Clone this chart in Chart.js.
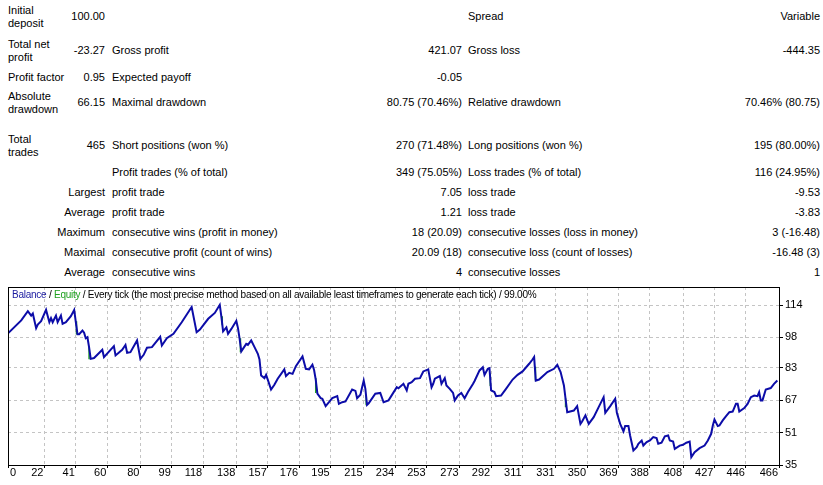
<!DOCTYPE html>
<html>
<head>
<meta charset="utf-8">
<script src="https://cdn.jsdelivr.net/npm/chart.js@4.4.1/dist/chart.umd.min.js"></script>
<style>
  html, body { margin: 0; padding: 0; background: #fff; }
  body {
    width: 823px; height: 485px; position: relative; overflow: hidden;
    font: 11px "Liberation Sans", Arial, sans-serif; color: #000;
  }
  .cell { position: absolute; white-space: pre; line-height: 13px; }
  .right { text-align: right; }
  #chartBox { position: absolute; left: 0; top: 283px; width: 823px; height: 202px; }
  #chartTitle {
    position: absolute; left: 12px; top: 288px; line-height: 14px; white-space: nowrap; z-index: 2;
    font-size: 10px; letter-spacing: -0.25px;
  }
  #chartTitle .bal { color: #1a1aa0; }
  #chartTitle .eq { color: #1fa01f; }
</style>
</head>
<body>
<div id="report"></div>
<div id="chartTitle"><span class="bal">Balance</span> / <span class="eq">Equity</span> / Every tick (the most precise method based on all available least timeframes to generate each tick) / 99.00%</div>
<div id="chartBox"><canvas id="balanceChart" width="823" height="202"></canvas></div>
<script>
'use strict';

// report rows: label, value, label, value, label, value
const reportRows = [
  ['Initial\ndeposit', '100.00', '', '', 'Spread', 'Variable'],
  ['Total net\nprofit', '-23.27', 'Gross profit', '421.07', 'Gross loss', '-444.35'],
  ['Profit factor', '0.95', 'Expected payoff', '-0.05', '', ''],
  ['Absolute\ndrawdown', '66.15', 'Maximal drawdown', '80.75 (70.46%)', 'Relative drawdown', '70.46% (80.75)'],
  ['Total\ntrades', '465', 'Short positions (won %)', '270 (71.48%)', 'Long positions (won %)', '195 (80.00%)'],
  ['', '', 'Profit trades (% of total)', '349 (75.05%)', 'Loss trades (% of total)', '116 (24.95%)'],
  ['Largest', '', 'profit trade', '7.05', 'loss trade', '-9.53'],
  ['Average', '', 'profit trade', '1.21', 'loss trade', '-3.83'],
  ['Maximum', '', 'consecutive wins (profit in money)', '18 (20.09)', 'consecutive losses (loss in money)', '3 (-16.48)'],
  ['Maximal', '', 'consecutive profit (count of wins)', '20.09 (18)', 'consecutive loss (count of losses)', '-16.48 (3)'],
  ['Average', '', 'consecutive wins', '4', 'consecutive losses', '1']
];
const rowCenters = [16.5, 50.5, 77, 102.5, 145.5, 172, 192, 212, 232, 252, 272];

const xTickLabels = [0, 22, 41, 60, 80, 99, 118, 138, 157, 176, 195, 215, 234, 253, 273, 292, 311, 331, 350, 369, 388, 408, 427, 446, 466];
const yTickLabels = [35, 51, 67, 83, 98, 114];

// balance after each trade (turning points)
const tradeIndex = [
  0, 8, 12, 14, 15, 17, 18, 20, 23, 25, 26, 27, 29, 30, 32, 33, 35, 38, 40, 41,
  42, 43, 45, 46, 47, 48, 49, 50, 52, 57, 58, 64, 65, 69, 71, 72, 74, 78, 80, 82,
  84, 87, 92, 93, 96, 100, 105, 111, 114, 116, 121, 125, 128, 129, 130, 132, 133, 135, 138, 139,
  140, 141, 144, 145, 147, 149, 151, 152, 153, 155, 156, 157, 159, 161, 163, 167, 168, 170, 172, 174,
  178, 180, 182, 184, 185, 186, 187, 189, 190, 192, 194, 196, 199, 200, 202, 204, 208, 210, 211, 213,
  214, 215, 216, 217, 218, 222, 225, 227, 230, 235, 236, 239, 241, 242, 244, 246, 249, 251, 254, 256,
  257, 258, 261, 262, 264, 265, 267, 269, 270, 272, 274, 276, 278, 281, 282, 285, 287, 288, 290, 291,
  292, 294, 295, 298, 301, 305, 308, 311, 315, 317, 318, 319, 321, 326, 330, 332, 334, 336, 337, 338,
  342, 344, 346, 347, 349, 351, 354, 357, 360, 361, 364, 367, 368, 370, 372, 373, 375, 376, 378, 380,
  381, 383, 384, 386, 388, 390, 392, 393, 395, 397, 399, 400, 402, 403, 406, 408, 410, 412, 413, 415,
  418, 421, 423, 425, 426, 427, 429, 430, 432, 434, 436, 438, 440, 441, 442, 445, 447, 449, 451, 453,
  454, 455, 456, 458, 461, 463, 465
];
const balance = [
  100.0, 106.4, 111.0, 108.8, 109.8, 102.6, 104.4, 106.0, 111.6, 105.5, 107.5, 105.5, 108.8, 105.5, 108.8, 104.7, 105.5, 108.5, 111.6, 105.5,
  99.6, 99.6, 101.4, 100.3, 97.6, 98.1, 93.2, 87.4, 87.8, 91.9, 88.3, 93.7, 89.1, 91.9, 94.3, 90.4, 90.7, 96.5, 87.4, 89.4,
  92.9, 93.2, 98.3, 94.0, 97.6, 99.8, 105.5, 113.0, 100.6, 101.9, 107.2, 110.1, 114.1, 108.0, 101.0, 103.0, 99.8, 102.2, 106.2, 102.6,
  97.3, 91.1, 94.8, 94.3, 96.5, 93.2, 89.9, 87.1, 79.2, 77.9, 79.5, 77.2, 72.3, 74.6, 77.6, 82.2, 78.9, 80.5, 80.0, 83.8,
  88.6, 82.5, 82.2, 84.5, 81.9, 77.2, 70.2, 68.0, 67.7, 64.1, 66.0, 68.0, 69.0, 65.2, 66.0, 66.4, 72.3, 71.6, 68.0, 69.7,
  73.3, 76.7, 72.6, 64.7, 65.5, 70.2, 70.6, 66.0, 66.9, 73.4, 72.9, 75.1, 71.8, 75.1, 75.9, 77.6, 77.9, 81.2, 82.2, 73.4,
  75.1, 77.6, 78.9, 75.1, 77.9, 74.3, 72.6, 70.6, 66.9, 69.3, 70.6, 68.0, 71.0, 75.0, 76.5, 81.7, 83.3, 79.5, 82.5, 82.8,
  71.8, 71.0, 69.0, 69.3, 72.6, 77.2, 79.5, 81.2, 85.0, 87.1, 88.3, 76.7, 77.2, 80.9, 82.5, 84.5, 80.9, 74.3, 67.7, 61.1,
  61.9, 64.1, 55.3, 56.5, 59.5, 55.3, 58.6, 63.6, 68.5, 60.8, 64.1, 67.7, 60.8, 55.3, 51.6, 54.2, 54.2, 49.6, 42.2, 43.8,
  45.5, 47.1, 44.6, 46.3, 47.1, 48.8, 48.3, 45.5, 46.0, 49.2, 49.6, 47.1, 46.6, 43.0, 44.6, 45.0, 46.0, 46.6, 38.9, 41.3,
  43.3, 44.6, 47.1, 50.4, 54.5, 57.5, 54.2, 54.5, 57.0, 59.1, 61.1, 61.4, 65.2, 65.2, 61.4, 63.1, 65.2, 68.5, 69.3, 69.0,
  71.0, 66.9, 66.9, 72.3, 73.0, 75.1, 76.73
];

// equity dips that show under the balance line (null = gap)
const equityIndex = [41.4, 41.4, 41.4, 49, 49, 49, 129.5, 129.5, 129.5, 140.5, 140.5, 140.5, 186, 186, 186, 216.5, 216.5, 216.5, 291.5, 291.5, 291.5, 318.8, 318.8, 318.8, 337, 337];
const equity = [106.0, 99.4, null, 93.4, 87.2, null, 108.5, 104.0, null, 97.6, 90.7, null, 78.0, 70.5, null, 69.5, 64.5, null, 80.0, 74.0, null, 83.5, 76.7, null, 68.0, 63.5];

(function buildReport() {
  const report = document.getElementById('report');
  const cols = [
    { left: 8, align: 'left' },
    { right: 718, align: 'right' },
    { left: 112, align: 'left' },
    { right: 361, align: 'right' },
    { left: 468, align: 'left' },
    { right: 3, align: 'right' }
  ];
  reportRows.forEach((row, r) => {
    row.forEach((text, c) => {
      if (!text) return;
      const el = document.createElement('div');
      el.className = 'cell';
      el.textContent = text;
      const lines = text.split('\n').length;
      el.style.top = (rowCenters[r] - lines * 6.5) + 'px';
      let col = cols[c];
      // short first-column words below the main block are right aligned
      if (c === 0 && r >= 6) col = { right: 718, align: 'right' };
      if (col.align === 'left') {
        el.style.left = col.left + 'px';
      } else {
        el.style.right = col.right + 'px';
        el.classList.add('right');
      }
      report.appendChild(el);
    });
  });
})();

(function initBalanceChart() {
  if (typeof Chart === 'undefined') {
    return;
  }
  Chart.defaults.font.family = '"Liberation Sans", Arial, sans-serif';
  Chart.defaults.font.size = 11;
  Chart.defaults.color = '#000';

  const balancePoints = tradeIndex.map((x, k) => ({ x, y: balance[k] }));
  const equityPoints = equityIndex.map((x, k) => ({ x, y: equity[k] }));

  const framePlugin = {
    id: 'frame',
    afterDraw(chart) {
      const { ctx, chartArea: a } = chart;
      ctx.save();
      ctx.strokeStyle = '#000';
      ctx.lineWidth = 1;
      ctx.strokeRect(a.left + 0.5, a.top + 0.5, a.right - a.left, a.bottom - a.top);
      ctx.restore();
    }
  };

  const xLabelPlugin = {
    id: 'xLabels',
    afterDraw(chart) {
      const scale = chart.scales.x;
      const ctx = chart.ctx;
      ctx.save();
      ctx.font = '11px "Liberation Sans", Arial, sans-serif';
      ctx.fillStyle = '#000';
      ctx.textBaseline = 'middle';
      scale.ticks.forEach((tick, k) => {
        const px = scale.getPixelForValue(tick.value);
        ctx.textAlign = k === 0 ? 'left' : 'right';
        ctx.fillText(String(xTickLabels[k]), k === 0 ? px + 2 : px - 1, chart.chartArea.bottom + 8);
      });
      ctx.restore();
    }
  };

  const gridColor = '#c4c4c4';

  new Chart(document.getElementById('balanceChart').getContext('2d'), {
    type: 'line',
    data: {
      datasets: [
        {
          label: 'Equity',
          data: equityPoints,
          borderColor: '#1fa01f',
          borderWidth: 1.5,
          pointRadius: 0,
          spanGaps: false,
          order: 2
        },
        {
          label: 'Balance',
          data: balancePoints,
          borderColor: '#0c0ca8',
          borderWidth: 2,
          pointRadius: 0,
          tension: 0,
          order: 1
        }
      ]
    },
    options: {
      responsive: false,
      animation: false,
      events: [],
      layout: { padding: { left: 8, top: 4, right: 0, bottom: 0 } },
      plugins: {
        legend: { display: false },
        tooltip: { enabled: false }
      },
      scales: {
        x: {
          type: 'linear',
          min: 0,
          max: 466,
          afterBuildTicks: scale => {
            scale.ticks = xTickLabels.map(value => ({ value }));
          },
          afterFit: scale => {
            scale.height = 20;
            scale.paddingLeft = 0;
            scale.paddingRight = 0;
          },
          ticks: { display: false },
          grid: { color: gridColor, tickColor: '#000', tickLength: 3, tickBorderDash: [] },
          border: { display: false, dash: [3, 3] }
        },
        y: {
          type: 'linear',
          position: 'right',
          min: 35,
          max: 122.9,
          afterBuildTicks: scale => {
            scale.ticks = yTickLabels.map(value => ({ value }));
          },
          afterFit: scale => {
            scale.width = 44;
            scale.paddingTop = 0;
            scale.paddingBottom = 0;
          },
          ticks: { padding: 2, color: '#000', callback: value => `${value}` },
          grid: { color: gridColor, tickColor: '#000', tickLength: 4, tickBorderDash: [] },
          border: { display: false, dash: [3, 3] }
        }
      }
    },
    plugins: [framePlugin, xLabelPlugin]
  });
})();
</script>
</body>
</html>
